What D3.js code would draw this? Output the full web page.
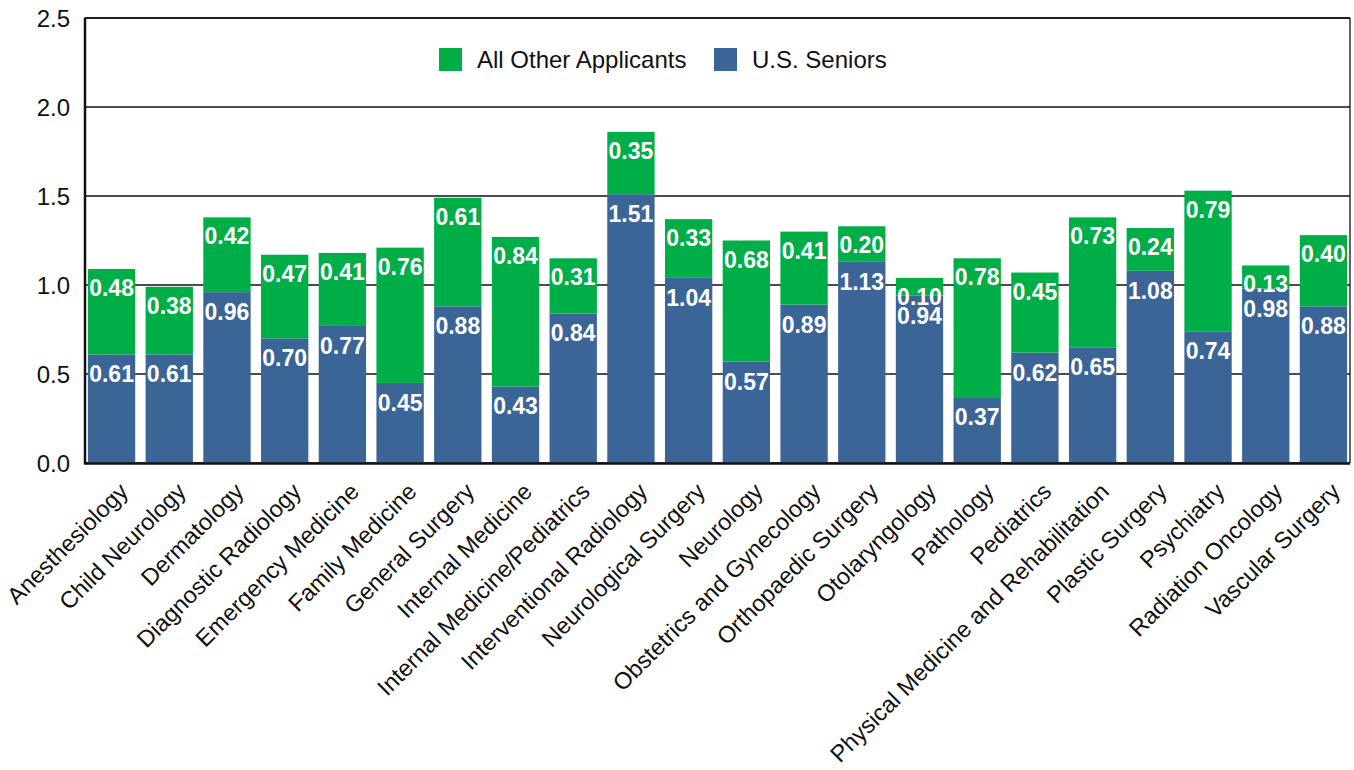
<!DOCTYPE html>
<html><head><meta charset="utf-8">
<script src="https://cdn.jsdelivr.net/npm/d3@7"></script>
<style>body{margin:0;background:#fff}svg{display:block}text{font-family:"Liberation Sans",Arial,sans-serif}</style>
</head><body><svg id="c" width="1354" height="770"></svg>
<script>
const categories = ["Anesthesiology","Child Neurology","Dermatology","Diagnostic Radiology","Emergency Medicine","Family Medicine","General Surgery","Internal Medicine","Internal Medicine/Pediatrics","Interventional Radiology","Neurological Surgery","Neurology","Obstetrics and Gynecology","Orthopaedic Surgery","Otolaryngology","Pathology","Pediatrics","Physical Medicine and Rehabilitation","Plastic Surgery","Psychiatry","Radiation Oncology","Vascular Surgery"];
const usSeniors = [0.61,0.61,0.96,0.70,0.77,0.45,0.88,0.43,0.84,1.51,1.04,0.57,0.89,1.13,0.94,0.37,0.62,0.65,1.08,0.74,0.98,0.88];
const allOther = [0.48,0.38,0.42,0.47,0.41,0.76,0.61,0.84,0.31,0.35,0.33,0.68,0.41,0.20,0.10,0.78,0.45,0.73,0.24,0.79,0.13,0.40];
const yTicks = [0,0.5,1.0,1.5,2.0,2.5];
const seriesNames = ["All Other Applicants","U.S. Seniors"];
const colors = {green:"#00ae47", blue:"#3b6497"};

const svg = d3.select("#c");
const L=85, R=1350, T=18, B=463;
const x = d3.scaleBand().domain(categories).range([L,R]).paddingInner(0.18).paddingOuter(0.05);
const y = d3.scaleLinear().domain([0,2.5]).range([B,T]);

// gridlines
svg.append("g").selectAll("line").data(yTicks).join("line")
  .attr("x1",L).attr("x2",R).attr("y1",d=>y(d)).attr("y2",d=>y(d))
  .attr("stroke","#111").attr("stroke-width",1.3);

// y labels
svg.append("g").selectAll("text").data(yTicks).join("text")
  .attr("x",L-15).attr("y",d=>y(d)).attr("dy","0.36em").attr("text-anchor","end")
  .attr("font-size",24).attr("fill","#111").text(d=>d.toFixed(1));

const data = categories.map((c,i)=>({c, b:usSeniors[i], g:allOther[i]}));
const bars = svg.append("g");
bars.selectAll("rect.b").data(data).join("rect").attr("class","b")
  .attr("x",d=>x(d.c)).attr("width",x.bandwidth())
  .attr("y",d=>y(d.b)).attr("height",d=>y(0)-y(d.b)).attr("fill",colors.blue);
bars.selectAll("rect.g").data(data).join("rect").attr("class","g")
  .attr("x",d=>x(d.c)).attr("width",x.bandwidth())
  .attr("y",d=>y(d.b+d.g)).attr("height",d=>y(d.b)-y(d.b+d.g)).attr("fill",colors.green);

// frame
svg.append("line").attr("x1",R).attr("x2",R).attr("y1",T).attr("y2",B).attr("stroke","#111").attr("stroke-width",1.3);
svg.append("line").attr("x1",L).attr("x2",R).attr("y1",T).attr("y2",T).attr("stroke","#111").attr("stroke-width",1.3);
svg.append("line").attr("x1",L).attr("x2",L).attr("y1",T-0.5).attr("y2",B+1.5).attr("stroke","#111").attr("stroke-width",2.5);
svg.append("line").attr("x1",L).attr("x2",R).attr("y1",B+0.5).attr("y2",B+0.5).attr("stroke","#111").attr("stroke-width",2.5);

// value labels
const lab = svg.append("g").attr("font-size",23).attr("font-weight","bold").attr("fill","#fff").attr("text-anchor","middle");
lab.selectAll("text.b").data(data).join("text").attr("class","b")
  .attr("x",d=>x(d.c)+x.bandwidth()/2).attr("y",d=>y(d.b)+28).text(d=>d.b.toFixed(2));
lab.selectAll("text.g").data(data).join("text").attr("class","g")
  .attr("x",d=>x(d.c)+x.bandwidth()/2).attr("y",d=>y(d.b+d.g)+27).text(d=>d.g.toFixed(2));

// x labels
svg.append("g").selectAll("text").data(categories).join("text")
  .attr("transform",d=>`translate(${x(d)+x.bandwidth()/2+18},${B+30}) rotate(-45)`)
  .attr("text-anchor","end").attr("font-size",23.5).attr("fill","#111").text(d=>d);

// legend
const leg = [{n:seriesNames[0],c:colors.green,x:439},{n:seriesNames[1],c:colors.blue,x:714}];
const lg = svg.append("g");
lg.selectAll("rect").data(leg).join("rect").attr("x",d=>d.x).attr("y",48).attr("width",23).attr("height",23).attr("fill",d=>d.c);
lg.selectAll("text").data(leg).join("text").attr("x",d=>d.x+38).attr("y",59.5).attr("dy","0.36em")
  .attr("font-size",24).attr("fill","#111").text(d=>d.n);
</script></body></html>
